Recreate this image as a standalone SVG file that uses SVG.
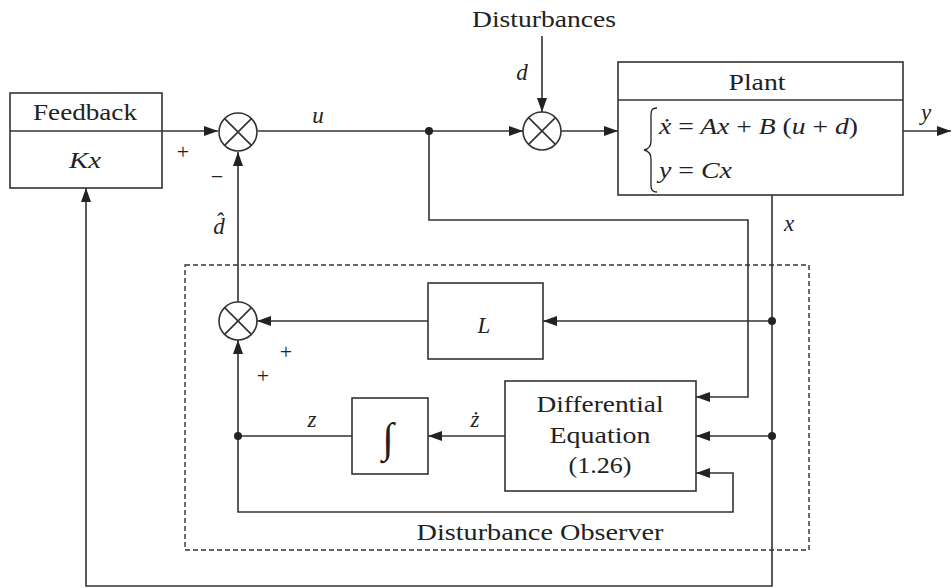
<svg xmlns="http://www.w3.org/2000/svg" width="952" height="588" viewBox="0 0 952 588" font-family="'Liberation Serif', 'Times New Roman', serif">
<defs>
<marker id="ah" markerWidth="15" markerHeight="11" refX="14" refY="5.5" orient="auto" markerUnits="userSpaceOnUse">
<path d="M0,0.5 L14,5.5 L0,10.5 Z" fill="#222"/>
</marker>
<style>
.ln{fill:none;stroke:#333;stroke-width:1.6}
.box{fill:#fff;stroke:#333;stroke-width:1.6}
.t{font-family:'Liberation Serif','Times New Roman',serif;font-size:23px;fill:#222;text-anchor:middle}
.i{font-family:'Liberation Serif','Times New Roman',serif;font-style:italic;font-size:23px;fill:#222;text-anchor:middle}
.s{font-family:'Liberation Serif','Times New Roman',serif;font-size:22px;fill:#222;text-anchor:middle}
.dot{fill:#222}
</style>
</defs>
<rect width="952" height="588" fill="#fff"/>

<g id="observer-frame">
<rect x="185" y="265" width="624" height="285" fill="none" stroke="#333" stroke-width="1.4" stroke-dasharray="5,3"/>
<text class="t" x="540" y="540" textLength="247" lengthAdjust="spacingAndGlyphs">Disturbance Observer</text>
</g>

<g id="connectors">
<path class="ln" d="M162,131 H218" marker-end="url(#ah)"/>
<path class="ln" d="M258,131 H523" marker-end="url(#ah)"/>
<path class="ln" d="M542,36 V112" marker-end="url(#ah)"/>
<path class="ln" d="M561,131 H618" marker-end="url(#ah)"/>
<path class="ln" d="M903,131 H951" marker-end="url(#ah)"/>
<path class="ln" d="M429,131 V220 H748 V397 H696" marker-end="url(#ah)"/>
<path class="ln" d="M772,195 V586 H86 V188" marker-end="url(#ah)"/>
<path class="ln" d="M772,321 H543" marker-end="url(#ah)"/>
<path class="ln" d="M428,321 H257" marker-end="url(#ah)"/>
<path class="ln" d="M238,302 V152" marker-end="url(#ah)"/>
<path class="ln" d="M772,436 H696" marker-end="url(#ah)"/>
<path class="ln" d="M505,436 H428" marker-end="url(#ah)"/>
<path class="ln" d="M352,436 H238 V340" marker-end="url(#ah)"/>
<path class="ln" d="M238,436 V512 H733 V473 H696" marker-end="url(#ah)"/>
<circle class="dot" cx="429" cy="131" r="4"/>
<circle class="dot" cx="772" cy="321" r="4"/>
<circle class="dot" cx="772" cy="436" r="4"/>
<circle class="dot" cx="238" cy="436" r="4"/>
</g>

<g id="labels">
<text class="t" x="544" y="27" textLength="144" lengthAdjust="spacingAndGlyphs">Disturbances</text>
<text class="i" x="522" y="80">d</text>
<text class="i" x="318" y="123">u</text>
<text class="i" x="926" y="120">y</text>
<text class="i" x="789" y="231">x</text>
<text class="i" x="219" y="234">d&#x302;</text>
<text class="i" x="312" y="427">z</text>
<text class="i" x="475" y="427">&#x17C;</text>
<text class="s" x="183" y="159">+</text>
<text class="s" x="217" y="184">−</text>
<text class="s" x="286" y="359">+</text>
<text class="s" x="263" y="383">+</text>
</g>

<g id="feedback">
<rect class="box" x="10" y="93" width="152" height="95"/>
<line class="ln" x1="10" y1="131" x2="162" y2="131"/>
<text class="t" x="85" y="120" textLength="104" lengthAdjust="spacingAndGlyphs">Feedback</text>
<text class="i" x="85" y="168" textLength="32" lengthAdjust="spacingAndGlyphs">Kx</text>
</g>

<g id="sum1">
<circle class="box" cx="238" cy="132" r="19"/>
<path class="ln" d="M224.6,118.6 L251.4,145.4 M251.4,118.6 L224.6,145.4"/>
</g>

<g id="sum2">
<circle class="box" cx="542" cy="131" r="19"/>
<path class="ln" d="M528.6,117.6 L555.4,144.4 M555.4,117.6 L528.6,144.4"/>
</g>

<g id="sum3">
<circle class="box" cx="238" cy="321" r="19"/>
<path class="ln" d="M224.6,307.6 L251.4,334.4 M251.4,307.6 L224.6,334.4"/>
</g>

<g id="plant">
<rect class="box" x="618" y="62" width="285" height="133"/>
<line class="ln" x1="618" y1="100" x2="903" y2="100"/>
<text class="t" x="757" y="90" textLength="57" lengthAdjust="spacingAndGlyphs">Plant</text>
<path d="M657,108 C650,108 651,113 651,121 L651,141 C651,146 649,149 644,150 C649,151 651,154 651,159 L651,179 C651,187 650,192 657,192" fill="none" stroke="#222" stroke-width="1.3"/>
<text class="i" x="659" y="134" style="text-anchor:start" textLength="199" lengthAdjust="spacingAndGlyphs">ẋ <tspan font-style="normal">=</tspan> Ax <tspan font-style="normal">+</tspan> B <tspan font-style="normal">(</tspan>u <tspan font-style="normal">+</tspan> d<tspan font-style="normal">)</tspan></text>
<text class="i" x="659" y="178" style="text-anchor:start" textLength="73" lengthAdjust="spacingAndGlyphs">y <tspan font-style="normal">=</tspan> Cx</text>
</g>

<g id="L">
<rect class="box" x="428" y="283" width="115" height="76"/>
<text class="i" x="484" y="333">L</text>
</g>

<g id="integrator">
<rect class="box" x="352" y="398" width="76" height="76"/>
<text class="t" x="388" y="452" style="font-size:42px">∫</text>
</g>

<g id="diffeq">
<rect class="box" x="505" y="381" width="191" height="110"/>
<text class="t" x="600" y="412" textLength="127" lengthAdjust="spacingAndGlyphs">Differential</text>
<text class="t" x="600" y="443" textLength="101" lengthAdjust="spacingAndGlyphs">Equation</text>
<text class="t" x="600" y="473" textLength="63" lengthAdjust="spacingAndGlyphs">(1.26)</text>
</g>
</svg>
